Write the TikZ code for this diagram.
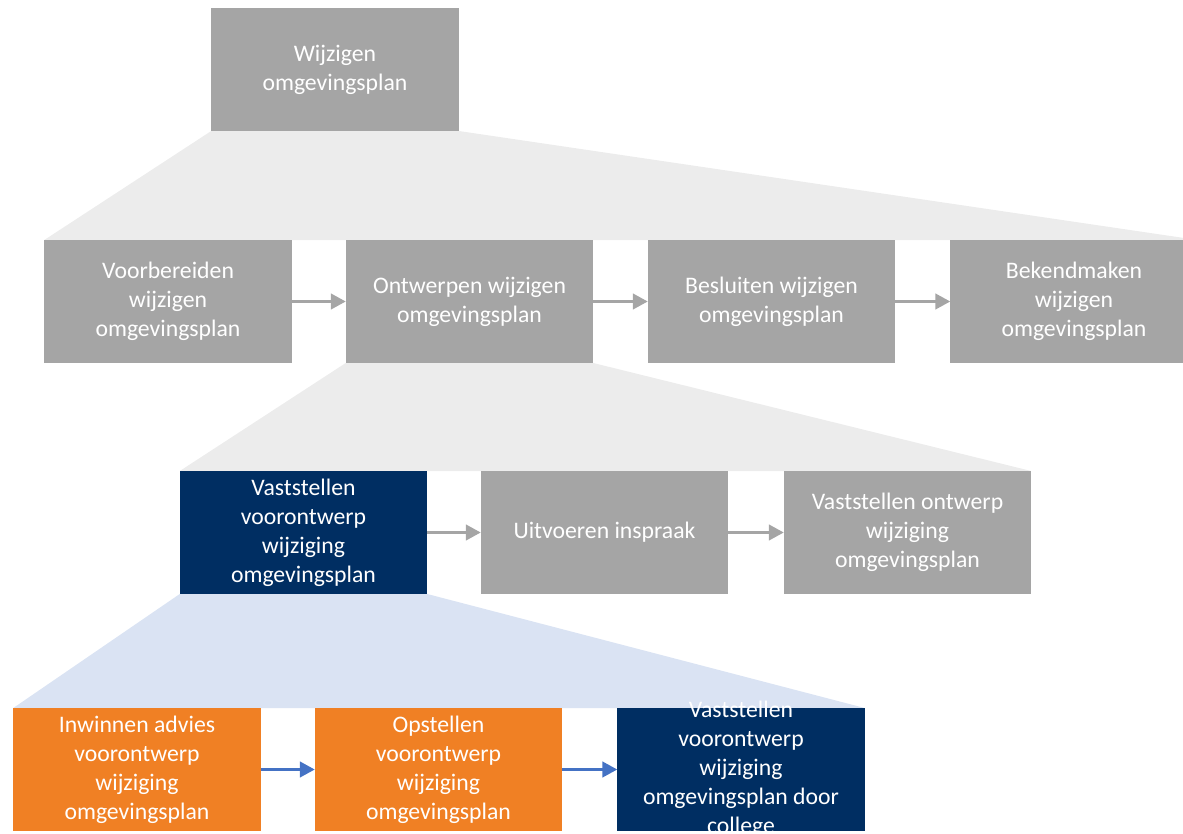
\documentclass[tikz,border=0pt]{standalone}
\usepackage{fontspec}
\setmainfont{Carlito}
\usepackage{xcolor}
\usepackage{tikz}
\usepackage{tkz-graph}
\usetikzlibrary{arrows.meta, backgrounds}
\definecolor{boxgray}{RGB}{165,165,165}
\definecolor{fangray}{RGB}{236,236,236}
\definecolor{navy}{RGB}{0,46,98}
\definecolor{orangebox}{RGB}{240,128,36}
\definecolor{fanblue}{RGB}{218,227,243}
\definecolor{arrowblue}{RGB}{68,114,196}
\tikzset{boxfont/.style={text=white, align=center, font=\fontsize{13.5pt}{16.5pt}\selectfont}}
\begin{document}
\begin{tikzpicture}[x=0.02cm, y=-0.02cm]
\useasboundingbox (0,0) rectangle (1183,834);
\GraphInit[vstyle=Normal]
\SetVertexNormal[Shape = rectangle, LineWidth = 0pt]
\tikzset{VertexStyle/.append style={draw=none, fill=boxgray, boxfont,
  minimum width=4.95cm, minimum height=2.46cm, inner sep=0pt, outer sep=0pt}}
\Vertex[x=335, y=69.5, L={Wijzigen\\omgevingsplan}]{WO}
\Vertex[x=168, y=301.5, L={Voorbereiden\\wijzigen\\omgevingsplan}]{VB}
\Vertex[x=469.5, y=301.5, L={Ontwerpen wijzigen\\omgevingsplan}]{OW}
\Vertex[x=771.5, y=301.5, L={Besluiten wijzigen\\omgevingsplan}]{BS}
\Vertex[x=1074, y=301.5, L={Bekendmaken\\wijzigen\\omgevingsplan}]{BM}
\Vertex[x=604.5, y=532.5, L={Uitvoeren inspraak}]{UI}
\Vertex[x=907.5, y=532.5, L={Vaststellen ontwerp\\wijziging\\omgevingsplan}]{VO}
\begin{scope}[VertexStyle/.append style={fill=navy}]
\Vertex[x=303.5, y=532.5, L={Vaststellen\\voorontwerp\\wijziging\\omgevingsplan}]{VV}
\end{scope}
\begin{scope}[VertexStyle/.append style={fill=orangebox}]
\Vertex[x=137, y=769.5, L={Inwinnen advies\\voorontwerp\\wijziging\\omgevingsplan}]{IA}
\Vertex[x=438.5, y=769.5, L={Opstellen\\voorontwerp\\wijziging\\omgevingsplan}]{OV}
\end{scope}
\begin{scope}[VertexStyle/.append style={fill=navy,
  label={[boxfont]center:Vaststellen\\voorontwerp\\wijziging\\omgevingsplan door\\college}}]
\Vertex[x=741, y=769.5, NoLabel]{VC}
\end{scope}
\begin{scope}[on background layer]
\fill[fangray] (WO.south west) -- (VB.north west) -- (BM.north east) -- (WO.south east) -- cycle;
\fill[fangray] (OW.south west) -- (VV.north west) -- (VO.north east) -- (OW.south east) -- cycle;
\fill[fanblue] (VV.south west) -- (IA.north west) -- (VC.north east) -- (VV.south east) -- cycle;
\end{scope}
\tikzset{EdgeStyle/.style={-{Triangle[length=0.3cm, width=0.31cm]}, line width=1.7pt, draw=boxgray}}
\Edge(VB)(OW)
\Edge(OW)(BS)
\Edge(BS)(BM)
\Edge(VV)(UI)
\Edge(UI)(VO)
\tikzset{EdgeStyle/.style={-{Triangle[length=0.3cm, width=0.31cm]}, line width=1.7pt, draw=arrowblue, fill=arrowblue}}
\Edge(IA)(OV)
\Edge(OV)(VC)
\end{tikzpicture}
\end{document}
